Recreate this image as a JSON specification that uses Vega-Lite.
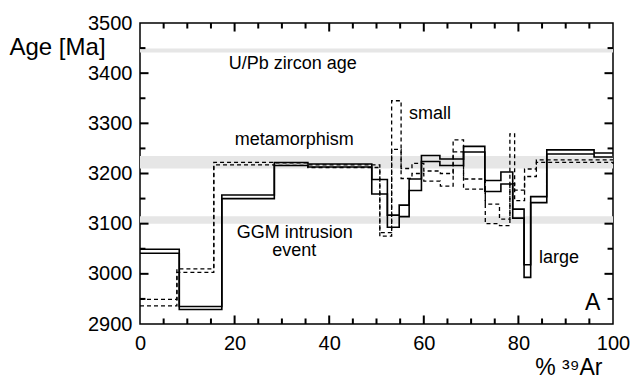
{
  "$schema": "https://vega.github.io/schema/vega-lite/v6.json",
  "width": 473,
  "height": 301,
  "autosize": "none",
  "padding": {"left": 140, "top": 23, "right": 21, "bottom": 54},
  "config": {
    "font": "Liberation Sans",
    "view": {"stroke": "black", "strokeWidth": 1.5},
    "axis": {"grid": false, "domain": false, "labelColor": "black", "labelFontSize": 20, "labelFlush": false, "titleColor": "black", "titleFontWeight": "normal", "titleFontSize": 20}
  },
  "datasets": {
    "bands": [
      {"name": "U/Pb", "lo": 3441, "hi": 3449},
      {"name": "meta", "lo": 3210, "hi": 3235},
      {"name": "GGM", "lo": 3100, "hi": 3115}
    ],
    "xmajor": [{"v": 20}, {"v": 40}, {"v": 60}, {"v": 80}],
    "xminor": [{"v": 5}, {"v": 10}, {"v": 15}, {"v": 25}, {"v": 30}, {"v": 35}, {"v": 45}, {"v": 50}, {"v": 55}, {"v": 65}, {"v": 70}, {"v": 75}, {"v": 85}, {"v": 90}, {"v": 95}],
    "ymajor": [{"v": 3000}, {"v": 3100}, {"v": 3200}, {"v": 3300}, {"v": 3400}],
    "yminor": [{"v": 2950}, {"v": 3050}, {"v": 3150}, {"v": 3250}, {"v": 3350}, {"v": 3450}],
    "large": [
      {"b": "hi", "x": 0, "age": 3049},
      {"b": "hi", "x": 8.3, "age": 2935},
      {"b": "hi", "x": 17.3, "age": 3157},
      {"b": "hi", "x": 28.4, "age": 3222},
      {"b": "hi", "x": 35.5, "age": 3219},
      {"b": "hi", "x": 49.0, "age": 3188},
      {"b": "hi", "x": 52.3, "age": 3117},
      {"b": "hi", "x": 54.8, "age": 3137},
      {"b": "hi", "x": 56.9, "age": 3189},
      {"b": "hi", "x": 59.5, "age": 3236},
      {"b": "hi", "x": 63.4, "age": 3229},
      {"b": "hi", "x": 68.4, "age": 3254},
      {"b": "hi", "x": 72.9, "age": 3186},
      {"b": "hi", "x": 76.3, "age": 3203},
      {"b": "hi", "x": 78.8, "age": 3129},
      {"b": "hi", "x": 81.2, "age": 3018},
      {"b": "hi", "x": 82.6, "age": 3154},
      {"b": "hi", "x": 86.0, "age": 3247},
      {"b": "hi", "x": 96.0, "age": 3241},
      {"b": "hi", "x": 100, "age": 3241},
      {"b": "lo", "x": 0, "age": 3041},
      {"b": "lo", "x": 8.3, "age": 2929},
      {"b": "lo", "x": 17.3, "age": 3150},
      {"b": "lo", "x": 28.4, "age": 3216},
      {"b": "lo", "x": 35.5, "age": 3213},
      {"b": "lo", "x": 49.0, "age": 3159},
      {"b": "lo", "x": 52.3, "age": 3093},
      {"b": "lo", "x": 54.8, "age": 3114},
      {"b": "lo", "x": 56.9, "age": 3166},
      {"b": "lo", "x": 59.5, "age": 3224},
      {"b": "lo", "x": 63.4, "age": 3216},
      {"b": "lo", "x": 68.4, "age": 3243},
      {"b": "lo", "x": 72.9, "age": 3164},
      {"b": "lo", "x": 76.3, "age": 3179},
      {"b": "lo", "x": 78.8, "age": 3111},
      {"b": "lo", "x": 81.2, "age": 2993},
      {"b": "lo", "x": 82.6, "age": 3142},
      {"b": "lo", "x": 86.0, "age": 3239},
      {"b": "lo", "x": 96.0, "age": 3233},
      {"b": "lo", "x": 100, "age": 3233}
    ],
    "small": [
      {"b": "hi", "x": 0, "age": 2949},
      {"b": "hi", "x": 7.8, "age": 3010},
      {"b": "hi", "x": 15.6, "age": 3222},
      {"b": "hi", "x": 28.4, "age": 3221},
      {"b": "hi", "x": 35.5, "age": 3217},
      {"b": "hi", "x": 50.7, "age": 3082},
      {"b": "hi", "x": 53.2, "age": 3345},
      {"b": "hi", "x": 55.2, "age": 3210},
      {"b": "hi", "x": 57.5, "age": 3220},
      {"b": "hi", "x": 60.0, "age": 3205},
      {"b": "hi", "x": 63.5, "age": 3200},
      {"b": "hi", "x": 66.2, "age": 3267},
      {"b": "hi", "x": 68.4, "age": 3189},
      {"b": "hi", "x": 73.0, "age": 3139},
      {"b": "hi", "x": 76.0, "age": 3109},
      {"b": "hi", "x": 78.2, "age": 3279},
      {"b": "hi", "x": 79.2, "age": 3167},
      {"b": "hi", "x": 81.3, "age": 3209},
      {"b": "hi", "x": 83.8, "age": 3227},
      {"b": "hi", "x": 100, "age": 3227},
      {"b": "lo", "x": 0, "age": 2936},
      {"b": "lo", "x": 7.8, "age": 3003},
      {"b": "lo", "x": 15.6, "age": 3217},
      {"b": "lo", "x": 28.4, "age": 3216},
      {"b": "lo", "x": 35.5, "age": 3212},
      {"b": "lo", "x": 50.7, "age": 3075},
      {"b": "lo", "x": 53.2, "age": 3248},
      {"b": "lo", "x": 55.2, "age": 3190},
      {"b": "lo", "x": 57.5, "age": 3200},
      {"b": "lo", "x": 60.0, "age": 3185},
      {"b": "lo", "x": 63.5, "age": 3175},
      {"b": "lo", "x": 66.2, "age": 3243},
      {"b": "lo", "x": 68.4, "age": 3169},
      {"b": "lo", "x": 73.0, "age": 3100},
      {"b": "lo", "x": 76.0, "age": 3096},
      {"b": "lo", "x": 78.2, "age": 3180},
      {"b": "lo", "x": 79.2, "age": 3146},
      {"b": "lo", "x": 81.3, "age": 3194},
      {"b": "lo", "x": 83.8, "age": 3222},
      {"b": "lo", "x": 100, "age": 3219}
    ],
    "labels": [
      {"t": "U/Pb zircon age", "x": 32.3, "y": 3419, "size": 18},
      {"t": "metamorphism", "x": 32.6, "y": 3266, "size": 18},
      {"t": "small", "x": 61.3, "y": 3319, "size": 18},
      {"t": "GGM  intrusion", "x": 32.7, "y": 3081, "size": 18},
      {"t": "event", "x": 32.6, "y": 3045, "size": 18},
      {"t": "large", "x": 88.6, "y": 3032, "size": 18},
      {"t": "A", "x": 95.7, "y": 2941, "size": 23}
    ]
  },
  "layer": [
    {
      "data": {"name": "bands"},
      "mark": {"type": "rect", "color": "#e6e6e6"},
      "encoding": {
        "x": {"datum": 0, "type": "quantitative", "scale": {"domain": [0, 100], "nice": false},
          "axis": {"orient": "bottom", "values": [0, 20, 40, 60, 80, 100], "ticks": false, "labelPadding": 9,
            "title": "% ³⁹Ar", "titleAnchor": "end", "titleAlign": "right", "titleBaseline": "alphabetic", "titleX": 462, "titleY": 50, "titleFontSize": 23}},
        "x2": {"datum": 100},
        "y": {"field": "lo", "type": "quantitative", "scale": {"domain": [2900, 3500], "nice": false, "zero": false},
          "axis": {"orient": "left", "values": [2900, 3000, 3100, 3200, 3300, 3400, 3500], "format": "d", "ticks": false, "labelPadding": 8,
            "title": "Age [Ma]", "titleAngle": 0, "titleAlign": "left", "titleBaseline": "middle", "titleX": -131, "titleY": 24, "titleFontSize": 24}},
        "y2": {"field": "hi"}
      }
    },
    {
      "data": {"name": "xmajor"},
      "mark": {"type": "rule", "color": "black", "strokeWidth": 2},
      "encoding": {"x": {"field": "v", "type": "quantitative"}, "y": {"datum": 2900}, "y2": {"datum": 2917}}
    },
    {
      "data": {"name": "xmajor"},
      "mark": {"type": "rule", "color": "black", "strokeWidth": 2},
      "encoding": {"x": {"field": "v", "type": "quantitative"}, "y": {"datum": 3500}, "y2": {"datum": 3483}}
    },
    {
      "data": {"name": "xminor"},
      "mark": {"type": "rule", "color": "black", "strokeWidth": 2},
      "encoding": {"x": {"field": "v", "type": "quantitative"}, "y": {"datum": 2900}, "y2": {"datum": 2911}}
    },
    {
      "data": {"name": "xminor"},
      "mark": {"type": "rule", "color": "black", "strokeWidth": 2},
      "encoding": {"x": {"field": "v", "type": "quantitative"}, "y": {"datum": 3500}, "y2": {"datum": 3489}}
    },
    {
      "data": {"name": "ymajor"},
      "mark": {"type": "rule", "color": "black", "strokeWidth": 2},
      "encoding": {"y": {"field": "v", "type": "quantitative"}, "x": {"datum": 0}, "x2": {"datum": 1.8}}
    },
    {
      "data": {"name": "ymajor"},
      "mark": {"type": "rule", "color": "black", "strokeWidth": 2},
      "encoding": {"y": {"field": "v", "type": "quantitative"}, "x": {"datum": 100}, "x2": {"datum": 98.2}}
    },
    {
      "data": {"name": "yminor"},
      "mark": {"type": "rule", "color": "black", "strokeWidth": 2},
      "encoding": {"y": {"field": "v", "type": "quantitative"}, "x": {"datum": 0}, "x2": {"datum": 1.15}}
    },
    {
      "data": {"name": "yminor"},
      "mark": {"type": "rule", "color": "black", "strokeWidth": 2},
      "encoding": {"y": {"field": "v", "type": "quantitative"}, "x": {"datum": 100}, "x2": {"datum": 98.85}}
    },
    {
      "data": {"name": "large"},
      "mark": {"type": "line", "interpolate": "step-after", "color": "black", "strokeWidth": 1.6},
      "encoding": {
        "x": {"field": "x", "type": "quantitative"},
        "y": {"field": "age", "type": "quantitative"},
        "detail": {"field": "b"}
      }
    },
    {
      "data": {"name": "small"},
      "mark": {"type": "line", "interpolate": "step-after", "color": "black", "strokeWidth": 1.3, "strokeDash": [4, 3]},
      "encoding": {
        "x": {"field": "x", "type": "quantitative"},
        "y": {"field": "age", "type": "quantitative"},
        "detail": {"field": "b"}
      }
    },
    {
      "data": {"name": "labels"},
      "mark": {"type": "text", "align": "center", "baseline": "middle", "color": "black"},
      "encoding": {
        "x": {"field": "x", "type": "quantitative"},
        "y": {"field": "y", "type": "quantitative"},
        "text": {"field": "t"},
        "size": {"field": "size", "type": "quantitative", "scale": null}
      }
    }
  ]
}
